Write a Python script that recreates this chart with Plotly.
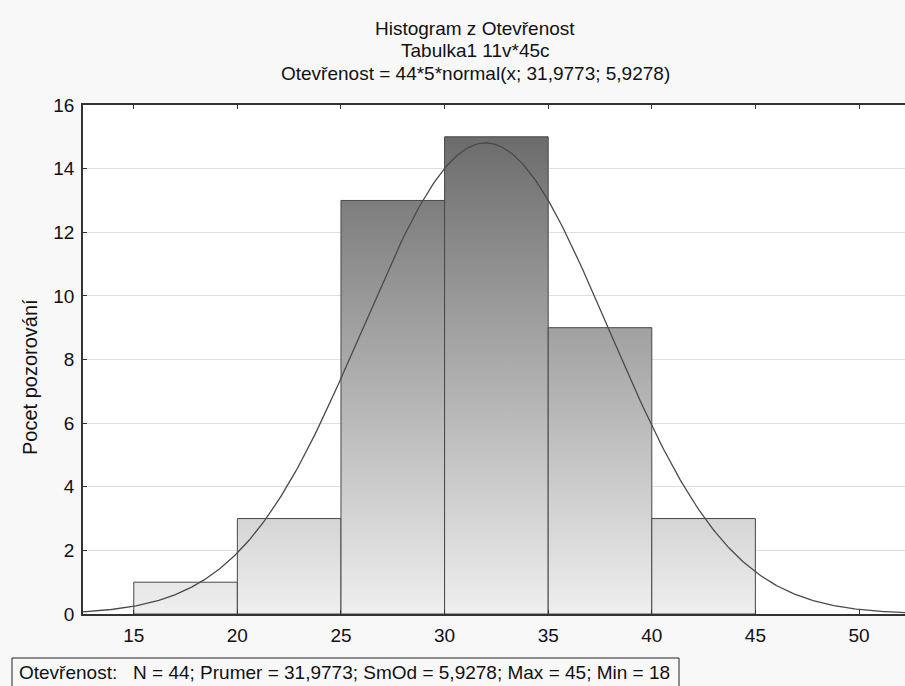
import numpy as np
import plotly.graph_objects as go

# ---- data ----
bin_edges = [15, 20, 25, 30, 35, 40, 45]
counts = [1, 3, 13, 15, 9, 3]
n_obs = 44
bin_width = 5
mean_val = 31.9773
sd_val = 5.9278
x_ticks = [15, 20, 25, 30, 35, 40, 45, 50]
y_ticks = [0, 2, 4, 6, 8, 10, 12, 14, 16]
title_lines = ["Histogram z Otevřenost", "Tabulka1 11v*45c",
               "Otevřenost = 44*5*normal(x; 31,9773; 5,9278)"]
y_title = "Pocet pozorování"
stats_text = "Otevřenost:   N = 44; Prumer = 31,9773; SmOd = 5,9278; Max = 45; Min = 18"

W, H = 905, 686
ML, MR, MT, MB = 83, 0, 105, 72
FONT = "Liberation Sans, Arial, sans-serif"
FS = 19

fig = go.Figure()

for lo, hi, c in zip(bin_edges[:-1], bin_edges[1:], counts):
    fig.add_trace(go.Scatter(
        x=[lo, lo, hi, hi, lo], y=[0, c, c, 0, 0],
        mode="lines", fill="toself",
        line=dict(color="#474747", width=1),
        fillgradient=dict(type="vertical", start=0, stop=15,
                          colorscale=[[0, "#efefef"], [1, "#6c6c6c"]]),
        hoverinfo="skip", showlegend=False))

xs = np.linspace(12.5, 52.5, 400)
ys = n_obs * bin_width * np.exp(-0.5 * ((xs - mean_val) / sd_val) ** 2) / (sd_val * np.sqrt(2 * np.pi))
fig.add_trace(go.Scatter(x=xs, y=ys, mode="lines",
                         line=dict(color="#4a4a4a", width=1.3),
                         hoverinfo="skip", showlegend=False))

def px_to_paper_x(px):
    return (px - ML) / (W - ML - MR)

def px_to_paper_y(py):
    return (H - MB - py) / (H - MT - MB)

annotations = []
for i, (t, py) in enumerate(zip(title_lines, [28, 51, 73])):
    annotations.append(dict(text=t, x=px_to_paper_x(475), y=px_to_paper_y(py),
                            xref="paper", yref="paper", showarrow=False,
                            xanchor="center", yanchor="middle",
                            font=dict(family=FONT, size=FS, color="#111111")))
annotations.append(dict(text=y_title, x=px_to_paper_x(30), y=px_to_paper_y(377),
                        xref="paper", yref="paper", showarrow=False, textangle=-90,
                        xanchor="center", yanchor="middle",
                        font=dict(family=FONT, size=20, color="#111111")))
annotations.append(dict(text=stats_text, x=px_to_paper_x(17), y=px_to_paper_y(672),
                        xref="paper", yref="paper", showarrow=False,
                        xanchor="left", yanchor="middle",
                        font=dict(family=FONT, size=FS, color="#111111")))

shapes = [dict(type="rect", xref="paper", yref="paper",
               x0=px_to_paper_x(12), x1=px_to_paper_x(679),
               y0=px_to_paper_y(700), y1=px_to_paper_y(658),
               line=dict(color="#222222", width=1), fillcolor="rgba(0,0,0,0)")]

fig.update_layout(
    width=W, height=H,
    margin=dict(l=ML, r=MR, t=MT, b=MB),
    paper_bgcolor="#f8f8f8", plot_bgcolor="#ffffff",
    font=dict(family=FONT, size=FS, color="#111111"),
    annotations=annotations, shapes=shapes,
    xaxis=dict(range=[12.55, 52.22], tickvals=x_ticks, ticks="inside", ticklen=4,
               tickcolor="#333333", showline=True, linecolor="#333333", linewidth=1.5,
               mirror="ticks", showgrid=False, zeroline=False, ticklabelstandoff=3,
               tickfont=dict(family=FONT, size=FS, color="#111111")),
    yaxis=dict(range=[0, 16], tickvals=y_ticks, ticks="inside", ticklen=4,
               tickcolor="#333333", showline=True, linecolor="#333333", linewidth=1.5,
               showgrid=True, gridcolor="#dedede", gridwidth=1, zeroline=False,
               ticklabelstandoff=3,
               tickfont=dict(family=FONT, size=FS, color="#111111")),
)

fig.write_html("out.html")
